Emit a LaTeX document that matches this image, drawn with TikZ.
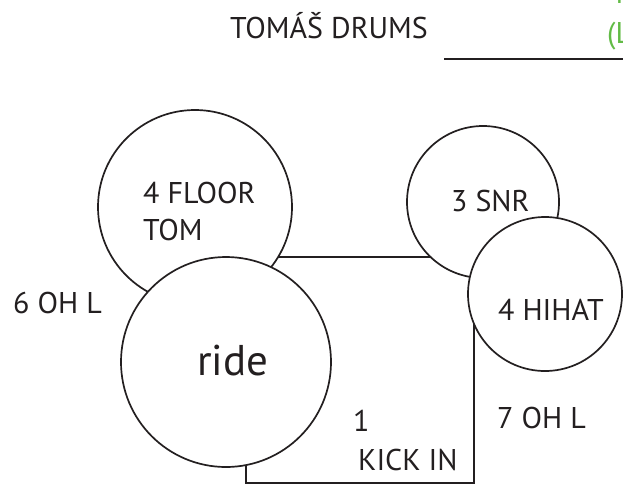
\documentclass[tikz,border=0pt]{standalone}
\usepackage{fontspec}
\setmainfont{PT Sans}
\definecolor{inkblack}{RGB}{35,31,32}
\definecolor{notegreen}{RGB}{98,187,70}
\tikzset{
  drum/.style={circle, draw=inkblack, fill=white, line width=1.7pt, inner sep=0pt},
  tag/.style={anchor=base west, inner sep=0pt, text=inkblack, font=\fontsize{30}{36}\selectfont},
}
\begin{document}
\begin{tikzpicture}[x=1pt, y=-1pt]
\useasboundingbox (0,0) rectangle (623,485);
% heading
\node[tag] (title) at (230,38) {TOMÁŠ DRUMS};
\node[tag, text=notegreen] (notetop) at (615,3) {I};
\node[tag, text=notegreen] (note) at (607,43) {(L};
\coordinate (rulestart) at (444,59);
\coordinate (ruleend) at (623,59);
\draw[inkblack, line width=2.2pt] (rulestart) -- (ruleend);
% kick
\node[draw=inkblack, line width=1.7pt, inner sep=0pt, minimum width=228pt, minimum height=226pt] (kick) at (360,370) {};
% drums
\node[drum, minimum size=194pt] (floor) at (195,207) {};
\node[drum, minimum size=210pt] (ride) at (226,362) {};
\node[drum, minimum size=152pt] (snare) at (483,202) {};
\node[drum, minimum size=154pt] (hihat) at (545,294) {};
% labels
\node[tag] (floorlbl) at (143,203) {4 FLOOR};
\node[tag] (tomlbl) at (143,240) {TOM};
\node[tag] (snarelbl) at (451,211) {3 SNR};
\node[tag] (hihatlbl) at (498,320) {4 HIHAT};
\node[tag, font=\fontsize{43}{50}\selectfont] (ridelbl) at (197,375) {ride};
\node[tag] (ohleft) at (13,313) {6 OH L};
\node[tag] (kicknum) at (353,431) {1};
\node[tag] (kicklbl) at (358,470) {KICK IN};
\node[tag] (ohright) at (497,428) {7 OH L};
\end{tikzpicture}
\end{document}
